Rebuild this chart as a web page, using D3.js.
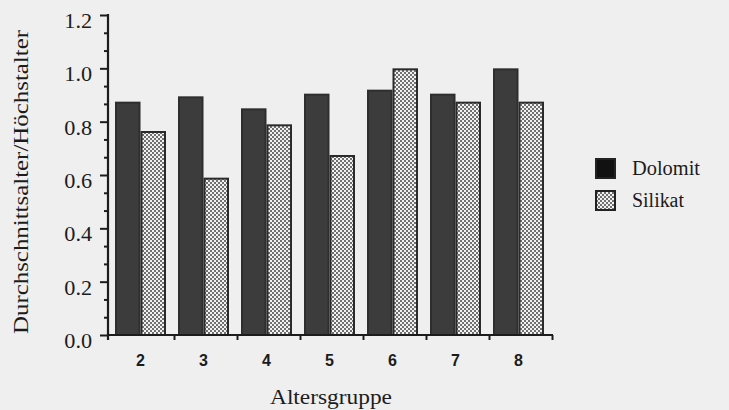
<!DOCTYPE html>
<html><head><meta charset="utf-8">
<script src="https://cdn.jsdelivr.net/npm/d3@7"></script>
<style>body{margin:0;background:#efefef;} svg{display:block}</style>
</head><body><svg id="c" width="729" height="410"></svg>
<script>
const categories = ["2","3","4","5","6","7","8"];
const series = ["Dolomit","Silikat"];
const dolomit = [0.875,0.895,0.85,0.905,0.92,0.905,1.0];
const silikat = [0.765,0.59,0.79,0.675,1.0,0.875,0.875];
const yTicks = [0,0.2,0.4,0.6,0.8,1.0,1.2];
const xTitle = "Altersgruppe";
const yTitle = "Durchschnittsalter/Höchstalter";

const svg = d3.select("#c");
const ink = "#1c1c1c";
const serif = "'Liberation Serif','Times New Roman',serif";

const defs = svg.append("defs");
const pat = defs.append("pattern").attr("id","dots").attr("patternUnits","userSpaceOnUse")
  .attr("width",4).attr("height",4);
pat.append("rect").attr("width",4).attr("height",4).attr("fill","#f2f2f2");
pat.append("rect").attr("width",2).attr("height",2).attr("fill","#707070");
pat.append("rect").attr("x",2).attr("y",2).attr("width",2).attr("height",2).attr("fill","#707070");

const y = d3.scaleLinear().domain([0,1.2]).range([335,15]);
const x = d3.scaleBand().domain(categories).range([111,552]).padding(0);
const x1 = d3.scaleBand().domain(series).range([4,55]).padding(0);
const xb = d3.scaleLinear().domain([0,categories.length]).range([111,552]);

const fills = {Dolomit:"#3c3c3c", Silikat:"url(#dots)"};
const strokes = {Dolomit:"#2e2e2e", Silikat:"#2a2a2a"};
const vals = {Dolomit:dolomit, Silikat:silikat};

// bars
series.forEach(s => {
  svg.append("g").selectAll("rect").data(categories).join("rect")
    .attr("x", c => x(c) + x1(s) + 1)
    .attr("y", (c,i) => y(vals[s][i]) + 1)
    .attr("width", x1.bandwidth() - 2)
    .attr("height", (c,i) => y(0) - y(vals[s][i]) - 1)
    .attr("fill", fills[s]).attr("stroke", strokes[s]).attr("stroke-width", 2);
});

// y axis
const yAx = svg.append("g").attr("transform","translate(108,0)")
  .call(d3.axisLeft(y).tickValues(yTicks).tickSize(8).tickFormat(d3.format(".1f")));
yAx.select(".domain").remove();
yAx.selectAll("line").attr("stroke",ink).attr("stroke-width",2);
yAx.selectAll("text").attr("font-family",serif).attr("font-size",21).attr("fill",ink)
  .attr("x",-15).attr("dy","0.6em").attr("transform","scale(1.06,1)");
const minor = d3.range(0,18).map(k => k/15).filter(v => Math.abs(v*5 - Math.round(v*5))>1e-6);
const yMin = svg.append("g").attr("transform","translate(108,0)")
  .call(d3.axisLeft(y).tickValues(minor).tickSize(4).tickFormat(""));
yMin.select(".domain").remove();
yMin.selectAll("line").attr("stroke",ink).attr("stroke-width",2);
svg.append("line").attr("x1",108).attr("x2",108).attr("y1",y(1.2)-1).attr("y2",y(0)+5)
  .attr("stroke",ink).attr("stroke-width",2.2);

// x axis
svg.append("line").attr("x1",107).attr("x2",xb(categories.length)+1).attr("y1",y(0)).attr("y2",y(0))
  .attr("stroke",ink).attr("stroke-width",2.2);
const xTk = svg.append("g").attr("transform",`translate(0,${y(0)})`)
  .call(d3.axisBottom(xb).tickValues(d3.range(1,categories.length+1)).tickSize(5).tickFormat(""));
xTk.select(".domain").remove();
xTk.selectAll("line").attr("stroke",ink).attr("stroke-width",2);
const xAx = svg.append("g").attr("transform",`translate(0,${y(0)})`)
  .call(d3.axisBottom(x).tickSize(0).tickPadding(20));
xAx.select(".domain").remove();
xAx.selectAll("text").attr("font-family","'Liberation Sans',Arial,sans-serif")
  .attr("font-weight","bold").attr("font-size",16).attr("fill",ink).attr("dx",-2);

// titles
svg.append("text").attr("x",331).attr("y",404).attr("text-anchor","middle")
  .attr("font-family",serif).attr("font-size",21).attr("fill",ink)
  .attr("textLength",122).attr("lengthAdjust","spacingAndGlyphs").text(xTitle);
svg.append("text").attr("transform","translate(28,182) rotate(-90)").attr("text-anchor","middle")
  .attr("font-family",serif).attr("font-size",21).attr("fill",ink)
  .attr("textLength",304).attr("lengthAdjust","spacingAndGlyphs").text(yTitle);

// legend
const leg = svg.append("g");
series.forEach((s,i) => {
  leg.append("rect").attr("x",596).attr("y",159 + i*32).attr("width",19).attr("height",19)
    .attr("fill", s==="Dolomit" ? "#111" : "url(#dots)").attr("stroke","#222").attr("stroke-width",2);
  leg.append("text").attr("x",632).attr("y",175 + i*32)
    .attr("font-family",serif).attr("font-size",20).attr("fill",ink)
    .attr("textLength", s==="Dolomit" ? 68 : 52).attr("lengthAdjust","spacingAndGlyphs").text(s);
});
</script></body></html>
